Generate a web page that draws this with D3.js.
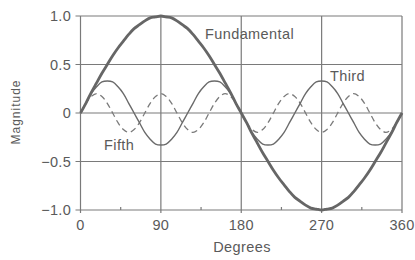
<!DOCTYPE html>
<html>
<head>
<meta charset="utf-8">
<script src="https://cdn.jsdelivr.net/npm/d3@7"></script>
<style>
  body { margin: 0; background: #fff; }
  text { font-family: "Liberation Sans", Arial, sans-serif; fill: #5a5a5a; }
</style>
</head>
<body>
<svg id="chart" width="415" height="260"></svg>
<script>
// data, one sample every 6 degrees
var degrees = d3.range(0, 361, 6);

var fundamental = [0, .10, .21, .31, .41, .50, .59, .67, .74, .81, .87, .91, .95, .98, .99, 1,
  .99, .98, .95, .91, .87, .81, .74, .67, .59, .50, .41, .31, .21, .10, 0,
  -.10, -.21, -.31, -.41, -.50, -.59, -.67, -.74, -.81, -.87, -.91, -.95, -.98, -.99, -1,
  -.99, -.98, -.95, -.91, -.87, -.81, -.74, -.67, -.59, -.50, -.41, -.31, -.21, -.10, 0];

var third = [0, .10, .20, .27, .32, .33, .32, .27, .20, .10, 0, -.10, -.20, -.27, -.32, -.33, -.32, -.27, -.20, -.10,
  0, .10, .20, .27, .32, .33, .32, .27, .20, .10, 0, -.10, -.20, -.27, -.32, -.33, -.32, -.27, -.20, -.10,
  0, .10, .20, .27, .32, .33, .32, .27, .20, .10, 0, -.10, -.20, -.27, -.32, -.33, -.32, -.27, -.20, -.10, 0];

var fifth = [0, .10, .17, .20, .17, .10, 0, -.10, -.17, -.20, -.17, -.10,
  0, .10, .17, .20, .17, .10, 0, -.10, -.17, -.20, -.17, -.10,
  0, .10, .17, .20, .17, .10, 0, -.10, -.17, -.20, -.17, -.10,
  0, .10, .17, .20, .17, .10, 0, -.10, -.17, -.20, -.17, -.10,
  0, .10, .17, .20, .17, .10, 0, -.10, -.17, -.20, -.17, -.10, 0];

var xTicks = [0, 90, 180, 270, 360];
var xMinor = [45, 135, 225, 315];
var yTicks = [-1, -0.5, 0, 0.5, 1];
var yLabels = ["\u22121.0", "\u22120.5", "0", "0.5", "1.0"];

var svg = d3.select("svg#chart");

var x = d3.scaleLinear().domain([0, 360]).range([80.5, 402]);
var y = d3.scaleLinear().domain([-1, 1]).range([210, 16]);

var grid = "#7a7a7a";

// horizontal grid
svg.selectAll("line.hg")
   .data(yTicks)
   .enter().append("line")
   .attr("x1", x(0) - 5).attr("x2", x(360))
   .attr("y1", function(d) { return y(d); })
   .attr("y2", function(d) { return y(d); })
   .attr("stroke", grid)
   .attr("stroke-width", 1.2);

// vertical grid
svg.selectAll("line.vg")
   .data(xTicks)
   .enter().append("line")
   .attr("x1", function(d) { return x(d); })
   .attr("x2", function(d) { return x(d); })
   .attr("y1", y(1)).attr("y2", y(-1) + 3)
   .attr("stroke", grid)
   .attr("stroke-width", 1.2);

// little ticks at 45 deg
svg.selectAll("line.mt")
   .data(xMinor)
   .enter().append("line")
   .attr("x1", function(d) { return x(d); })
   .attr("x2", function(d) { return x(d); })
   .attr("y1", y(-1)).attr("y2", y(-1) - 3)
   .attr("stroke", grid)
   .attr("stroke-width", 1.2);

// tick labels
svg.selectAll("text.yl")
   .data(yTicks)
   .enter().append("text")
   .attr("x", 71)
   .attr("y", function(d) { return y(d) + 5; })
   .attr("text-anchor", "end")
   .style("font-size", "14.5px")
   .style("letter-spacing", "0.3px")
   .text(function(d, i) { return yLabels[i]; });

svg.selectAll("text.xl")
   .data(xTicks)
   .enter().append("text")
   .attr("x", function(d) { return x(d); })
   .attr("y", 230)
   .attr("text-anchor", "middle")
   .style("font-size", "14.5px")
   .style("letter-spacing", "0.3px")
   .text(function(d) { return d; });

svg.append("text")
   .attr("x", 242).attr("y", 252)
   .attr("text-anchor", "middle")
   .style("font-size", "14.5px")
   .style("letter-spacing", "0.4px")
   .text("Degrees");

svg.append("text")
   .attr("transform", "translate(20,112) rotate(-90)")
   .attr("text-anchor", "middle")
   .style("font-size", "12px")
   .style("letter-spacing", "1px")
   .text("Magnitude");

// curves
var line = function(vals) {
  return d3.line()
    .x(function(d, i) { return x(degrees[i]); })
    .y(function(d) { return y(d); })
    .curve(d3.curveCatmullRom)(vals);
};

svg.append("path")
   .attr("d", line(fifth))
   .attr("fill", "none")
   .attr("stroke", "#7a7a7a")
   .attr("stroke-width", 1.3)
   .attr("stroke-dasharray", "6,4");

svg.append("path")
   .attr("d", line(third))
   .attr("fill", "none")
   .attr("stroke", "#6a6a6a")
   .attr("stroke-width", 1.4);

svg.append("path")
   .attr("d", line(fundamental))
   .attr("fill", "none")
   .attr("stroke", "#666")
   .attr("stroke-width", 2.8);

// curve names
svg.append("text")
   .attr("x", 205).attr("y", 39)
   .style("font-size", "14.5px")
   .style("letter-spacing", "0.4px")
   .text("Fundamental");

svg.append("text")
   .attr("x", 330).attr("y", 81)
   .style("font-size", "14.5px")
   .style("letter-spacing", "0.4px")
   .text("Third");

svg.append("text")
   .attr("x", 104).attr("y", 150)
   .style("font-size", "14.5px")
   .style("letter-spacing", "0.4px")
   .text("Fifth");
</script>
</body>
</html>
